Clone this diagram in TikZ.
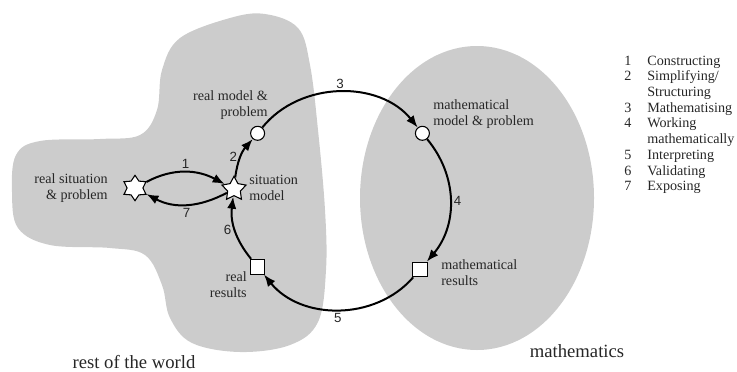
\documentclass[tikz,border=0pt]{standalone}
\usepackage{fontspec}
\setmainfont{Liberation Serif}
\newfontfamily\numfont{Liberation Sans}
\usetikzlibrary{shapes.geometric,arrows.meta}

\tikzset{
  zone/.style={fill=gray!40},
  stage/.style={draw=black,fill=white,line width=0.8pt,inner sep=0pt},
  starnode/.style={stage,star,star points=6,star point ratio=1.6,minimum size=19pt},
  roundnode/.style={stage,circle,minimum size=10.5pt},
  squarenode/.style={stage,rectangle,minimum size=11pt},
  lbl/.style={font=\fontsize{10.6}{11.8}\selectfont,text=black!85,inner sep=0pt},
  big/.style={font=\fontsize{14}{16}\selectfont,text=black!85,inner sep=0pt},
  phase/.style={line width=1.5pt,-{Latex[length=9pt,width=7pt]}},
  num/.style={font=\numfont\fontsize{10}{11}\selectfont,text=black!85,inner sep=2pt},
}

\begin{document}
\begin{tikzpicture}[x=0.75pt,y=-0.75pt]
	\useasboundingbox (0,0) rectangle (737,371);
	% the two worlds
	\fill[zone] plot[smooth cycle,tension=0.6] coordinates {
		(12,192) (16,155) (40,141) (100,139) (140,135) (157,110) (162,70)
		(180,38) (230,18) (265,14) (298,28) (310,65) (318,130) (325,210)
		(326,270) (318,322) (290,345) (240,352) (192,343) (170,318)
		(162,285) (145,255) (110,248) (50,245) (18,228)};
	\fill[zone] (477,198) ellipse [x radius=87.75pt, y radius=114pt];
	% stages of the cycle
	\node[starnode] (rs) at (135,188) {};
	\node[starnode,star points=5,star point ratio=1.9] (sm) at (234,189) {};
	\node[roundnode] (rm) at (257.6,133.3) {};
	\node[roundnode] (mm) at (422.4,133.3) {};
	\node[squarenode] (mr) at (420,269.5) {};
	\node[squarenode] (rr) at (257.6,266.7) {};
	% labels
	\node[lbl,anchor=east,align=right] (rsl) at (108,188) {real situation\\\& problem};
	\node[lbl,anchor=west,align=left] (sml) at (249,188) {situation\\model};
	\node[lbl,anchor=east,align=right] (rml) at (268,105) {real model \&\\problem};
	\node[lbl,anchor=east,align=right] (rrl) at (247,285) {real\\results};
	\node[lbl,anchor=west,align=left] (mml) at (433,114) {mathematical\\model \& problem};
	\node[lbl,anchor=west,align=left] (mrl) at (441,273) {mathematical\\results};
	\node[big] (world) at (134,362) {rest of the world};
	\node[big] (maths) at (577,351) {mathematics};
	% the steps
	\draw[phase] (rs) to[out=28,in=152] node[num,above] {1} (sm);
	\draw[phase] (sm) to[out=-152,in=-28] node[num,below] {7} (rs);
	\draw[phase] (sm) to[bend left=17] node[num,left] {2} (rm);
	\draw[phase] (rm) to[bend left=51] node[num,above] {3} (mm);
	\draw[phase] (mm) to[bend left=40] node[num,right] {4} (mr);
	\draw[phase] (mr) to[bend left=50] node[num,below] {5} (rr);
	\draw[phase] (rr) to[bend left=23] node[num,left] {6} (sm);
	% legend
	\node[lbl,anchor=base west] (legend) at (624,65) {\begin{tabular}[t]{@{}l@{\hspace{12pt}}l@{}}
		1 & Constructing\\
		2 & Simplifying/\\
		  & Structuring\\
		3 & Mathematising\\
		4 & Working\\
		  & mathematically\\
		5 & Interpreting\\
		6 & Validating\\
		7 & Exposing
	\end{tabular}};
\end{tikzpicture}
\end{document}
